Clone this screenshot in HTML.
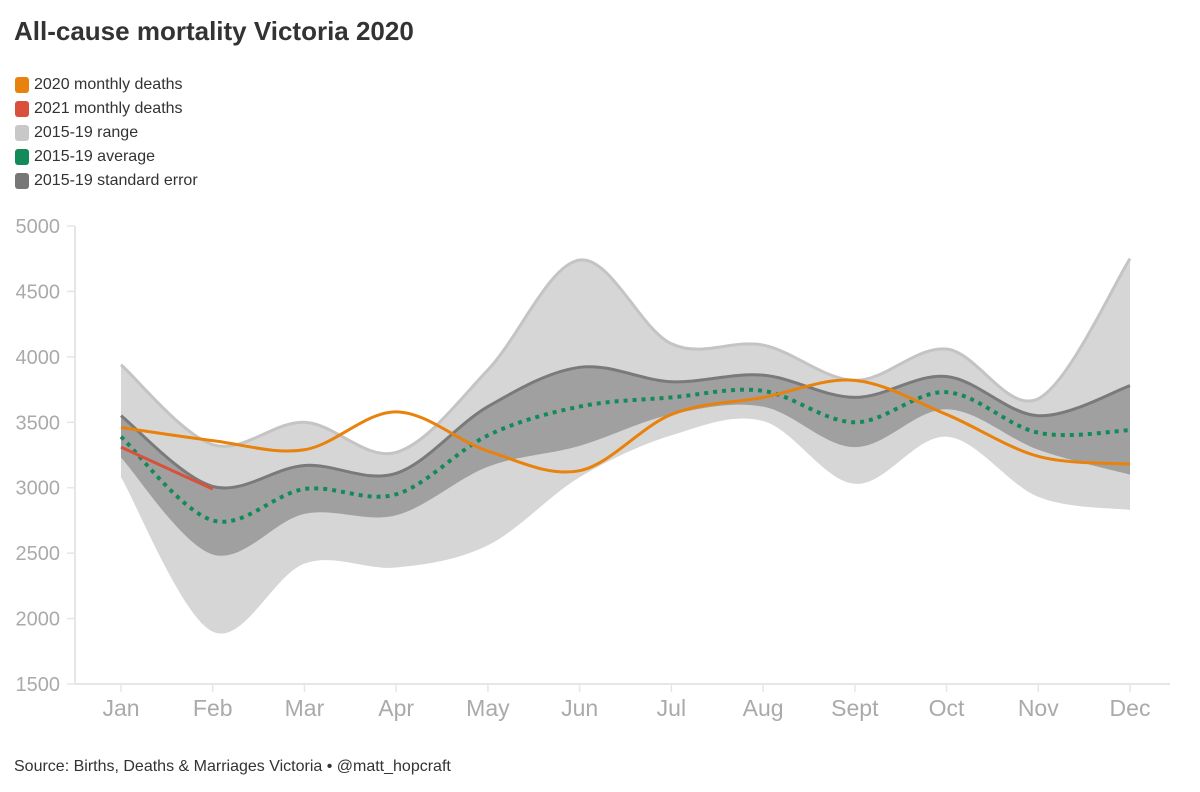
<!DOCTYPE html>
<html><head><meta charset="utf-8"><style>
body{margin:0;width:1200px;height:792px;background:#fff;font-family:"Liberation Sans",sans-serif;overflow:hidden}
.t{position:absolute;left:14px;top:16px;font-size:26px;font-weight:bold;color:#333}
.lg{position:absolute;left:15px;font-size:16px;color:#333;display:flex;align-items:center}
.lg span{display:inline-block;width:14px;height:16px;border-radius:3px;margin-right:5px}
.src{position:absolute;left:14px;top:758px;font-size:16px;color:#333}
</style></head><body>
<div class="t">All-cause mortality Victoria 2020</div>
<div class="lg" style="top:76px"><span style="background:#e8820c"></span>2020 monthly deaths</div>
<div class="lg" style="top:100px"><span style="background:#d9503b"></span>2021 monthly deaths</div>
<div class="lg" style="top:124px"><span style="background:#c8c8c8"></span>2015-19 range</div>
<div class="lg" style="top:148px"><span style="background:#138a5a"></span>2015-19 average</div>
<div class="lg" style="top:172px"><span style="background:#777"></span>2015-19 standard error</div>
<svg id="c" width="1200" height="792" style="position:absolute;left:0;top:0"></svg>
<div class="src">Source: Births, Deaths &amp; Marriages Victoria • @matt_hopcraft</div>
<script>
const months=["Jan","Feb","Mar","Apr","May","Jun","Jul","Aug","Sept","Oct","Nov","Dec"];
const yTicks=[1500,2000,2500,3000,3500,4000,4500,5000];
const deaths2020=[3460,3360,3290,3580,3280,3130,3560,3690,3820,3560,3240,3180];
const deaths2021=[3310,2990];
const rangeMax=[3940,3330,3500,3270,3900,4740,4100,4090,3820,4060,3680,4750];
const rangeMin=[3080,1900,2420,2390,2560,3080,3400,3510,3030,3390,2930,2830];
const avg=[3390,2750,2990,2950,3400,3620,3690,3740,3500,3730,3420,3440];
const seHi=[3550,3010,3170,3110,3620,3920,3810,3860,3690,3850,3550,3780];
const seLo=[3230,2490,2800,2790,3160,3320,3560,3620,3310,3600,3290,3100];
const svg=document.getElementById('c'),NS="http://www.w3.org/2000/svg";
const X=i=>121+i*(1130-121)/11, Y=v=>684-(v-1500)*(684-226)/3500;
function el(t,a){const e=document.createElementNS(NS,t);for(const k in a)e.setAttribute(k,a[k]);svg.appendChild(e);return e}
function curve(vals,rev){let p=vals.map((v,i)=>[X(i),Y(v)]);if(rev)p=p.reverse();
 let d=(rev?"L":"M")+p[0][0]+","+p[0][1];
 for(let i=0;i<p.length-1;i++){const p0=p[i-1]||p[i],p1=p[i],p2=p[i+1],p3=p[i+2]||p2;
  d+=`C${p1[0]+(p2[0]-p0[0])/6},${p1[1]+(p2[1]-p0[1])/6} ${p2[0]-(p3[0]-p1[0])/6},${p2[1]-(p3[1]-p1[1])/6} ${p2[0]},${p2[1]}`;}
 return d}
// axes
let a=el('line',{x1:75,y1:226,x2:75,y2:684,stroke:'#e6e6e6','stroke-width':2});
a=el('line',{x1:75,y1:684,x2:1170,y2:684,stroke:'#e6e6e6','stroke-width':2});
yTicks.forEach(v=>{el('line',{x1:67,x2:75,y1:Y(v),y2:Y(v),stroke:'#e6e6e6','stroke-width':1.5});
 const t=el('text',{x:60,y:Y(v)+7,'text-anchor':'end','font-size':20,fill:'#aaa'});t.textContent=v;
 });
months.forEach((m,i)=>{el('line',{x1:X(i),x2:X(i),y1:684,y2:692,stroke:'#e6e6e6','stroke-width':1.5});
 const t=el('text',{x:X(i),y:716,'text-anchor':'middle','font-size':23,fill:'#aaa'});t.textContent=m;
 });
let p=el('path',{d:curve(rangeMax)+curve(rangeMin,true)+"Z",fill:'#d6d6d6'});
p=el('path',{d:curve(rangeMax),fill:'none',stroke:'#c4c4c4','stroke-width':3});
p=el('path',{d:curve(seHi)+curve(seLo,true)+"Z",fill:'#a0a0a0'});
p=el('path',{d:curve(seHi),fill:'none',stroke:'#7a7a7a','stroke-width':3});
p=el('path',{d:curve(avg),fill:'none',stroke:'#138a5a','stroke-width':4,'stroke-dasharray':'4 5'});
p=el('path',{d:curve(deaths2020),fill:'none',stroke:'#e8820c','stroke-width':3});
p=el('path',{d:curve(deaths2021),fill:'none',stroke:'#d9503b','stroke-width':3});
</script>
</body></html>
